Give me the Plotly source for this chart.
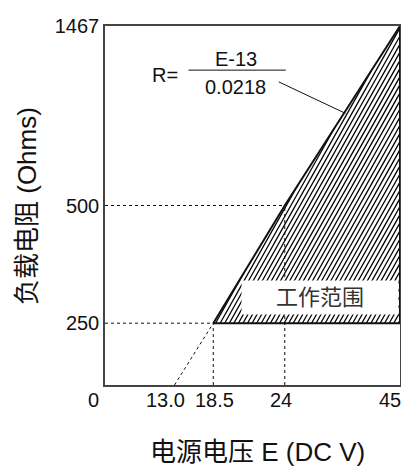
import numpy as np
import plotly.graph_objects as go

# ---------------- data ----------------
E_TICKS = [0, 13.0, 18.5, 24, 45]
E_TICK_LABELS = ["0", "13.0", "18.5", "24", "45"]
R_TICKS = [250, 500, 1467]
R_TICK_LABELS = ["250", "500", "1467"]
E_LINE = [13.0, 18.5, 24, 45]          # supply voltage along R=(E-13)/0.0218
R_LINE = [0, 250, 500, 1467]           # load resistance
R_MIN = 250
FORMULA_NUM = "E-13"
FORMULA_DEN = "0.0218"
REGION_LABEL = "工作范围"
X_TITLE = "电源电压 E (DC V)"
Y_TITLE = "负载电阻 (Ohms)"

# ---------------- schematic (piecewise-linear) scales ----------------
# display units == page pixels (x from left, y from bottom of a 467 px page)
E_ANCHOR = [0, 13.0, 18.5, 24, 45]
X_ANCHOR = [93, 175, 214, 286, 402]
R_ANCHOR = [0, 250, 500, 1467]
Y_ANCHOR = [82, 145, 265, 448]
X_RANGE = [105, 402]
Y_RANGE = [82, 448]
BODY = 8  # default page body margin

HATCH_SLOPE = 1.8
HATCH_STEP = 4.6


def sx(e):
    return np.interp(e, E_ANCHOR, X_ANCHOR)


def sy(r):
    return np.interp(r, R_ANCHOR, Y_ANCHOR)


def px(v):
    return (v - X_RANGE[0]) / (X_RANGE[1] - X_RANGE[0])


def py(v):
    return (v - Y_RANGE[0]) / (Y_RANGE[1] - Y_RANGE[0])


def hatch(poly_x, poly_y, slope, step):
    """Clip parallel hatch lines (x - y/slope = const) to a polygon."""
    pts = list(zip(poly_x, poly_y))
    u = [x - y / slope for x, y in pts]
    xs, ys = [], []
    c = min(u) + step / 2
    while c < max(u):
        hits = []
        for i in range(len(pts) - 1):
            (x1, y1), (x2, y2) = pts[i], pts[i + 1]
            u1, u2 = u[i], u[i + 1]
            if u1 == u2:
                continue
            t = (c - u1) / (u2 - u1)
            if 0 <= t < 1:
                hits.append((x1 + t * (x2 - x1), y1 + t * (y2 - y1)))
        hits.sort(key=lambda p: p[1])
        for a, b in zip(hits[0::2], hits[1::2]):
            xs += [a[0], b[0], None]
            ys += [a[1], b[1], None]
        c += step
    return xs, ys


FONT = "Arial, 'Liberation Sans', 'Noto Sans CJK SC', sans-serif"
INK = "#111111"

fig = go.Figure()

# working region polygon (closed)
hx = [float(sx(E_LINE[1])), float(sx(E_LINE[2])), float(sx(E_LINE[3])),
      float(sx(E_LINE[3])), float(sx(E_LINE[1]))]
hy = [float(sy(R_LINE[1])), float(sy(R_LINE[2])), float(sy(R_LINE[3])),
      float(sy(R_MIN)), float(sy(R_MIN))]

# hatch fill
hxs, hys = hatch(hx, hy, HATCH_SLOPE, HATCH_STEP)
fig.add_trace(go.Scatter(
    x=hxs, y=hys, mode="lines", line=dict(color="#000000", width=1.3),
    hoverinfo="skip", showlegend=False,
))

# dotted extension of the line down to E=13
fig.add_trace(go.Scatter(
    x=[sx(E_LINE[0]), sx(E_LINE[1])], y=[sy(R_LINE[0]), sy(R_LINE[1])],
    mode="lines", line=dict(color=INK, width=1, dash="dot"),
    hoverinfo="skip", showlegend=False,
))

# dotted guide lines
for e, r in [(18.5, 250), (24, 500)]:
    fig.add_trace(go.Scatter(
        x=[X_RANGE[0], sx(e)], y=[sy(r), sy(r)], mode="lines",
        line=dict(color=INK, width=1, dash="dot"), hoverinfo="skip", showlegend=False))
    fig.add_trace(go.Scatter(
        x=[sx(e), sx(e)], y=[Y_RANGE[0], sy(r)], mode="lines",
        line=dict(color=INK, width=1, dash="dot"), hoverinfo="skip", showlegend=False))

# solid outline
fig.add_trace(go.Scatter(
    x=hx, y=hy, mode="lines", line=dict(color=INK, width=2),
    hoverinfo="skip", showlegend=False,
))

# formula bar and leader
fig.add_shape(type="line", x0=189, x1=287, y0=403, y1=403,
              line=dict(color=INK, width=1))
fig.add_shape(type="line", x0=280, x1=347, y0=391, y1=359,
              line=dict(color=INK, width=1))

ann = []
ann.append(dict(x=165, y=398, xref="x", yref="y", text="R=", showarrow=False,
                font=dict(size=20, color=INK, family=FONT)))
ann.append(dict(x=237, y=414, xref="x", yref="y", text=FORMULA_NUM, showarrow=False,
                font=dict(size=20, color=INK, family=FONT)))
ann.append(dict(x=236, y=386, xref="x", yref="y", text=FORMULA_DEN, showarrow=False,
                font=dict(size=20, color=INK, family=FONT)))
# working region label on white box
ann.append(dict(x=321, y=171.5, xref="x", yref="y", text=REGION_LABEL, showarrow=False,
                bgcolor="white", width=156, height=33, borderpad=0,
                font=dict(size=22, color="#333333", family=FONT)))

# x tick labels
X_SHIFTS = [0, -9, 1, -4, -10]
for e, lab, sh in zip(E_TICKS, E_TICK_LABELS, X_SHIFTS):
    ann.append(dict(x=px(sx(e)), y=py(67), xref="paper", yref="paper", text=lab,
                    showarrow=False, xshift=sh, xanchor="center", yanchor="middle",
                    font=dict(size=20, color=INK, family=FONT)))
# titles
ann.append(dict(x=px(259), y=py(14), xref="paper", yref="paper", text=X_TITLE,
                showarrow=False, yanchor="middle",
                font=dict(size=26, color=INK, family=FONT)))
ann.append(dict(x=px(27), y=py(264), xref="paper", yref="paper", text=Y_TITLE,
                showarrow=False, textangle=-90, xanchor="center", yanchor="middle",
                font=dict(size=26, color=INK, family=FONT)))

fig.update_layout(
    width=409 - BODY, height=467 - BODY,
    margin=dict(l=105 - BODY, r=7, t=19 - BODY, b=82),
    paper_bgcolor="white", plot_bgcolor="white",
    annotations=ann,
    xaxis=dict(range=X_RANGE, showgrid=False, zeroline=False, showticklabels=False,
               ticks="", showline=True, mirror=True, linecolor="#444444", linewidth=1.5,
               fixedrange=True),
    yaxis=dict(range=Y_RANGE, showgrid=False, zeroline=False,
               tickvals=[float(sy(r)) for r in R_TICKS], ticktext=R_TICK_LABELS,
               tickfont=dict(size=20, color=INK, family=FONT), ticks="",
               ticklabelstandoff=0,
               showline=True, mirror=True, linecolor="#444444", linewidth=1.5,
               fixedrange=True),
)

fig.write_html("out.html")
